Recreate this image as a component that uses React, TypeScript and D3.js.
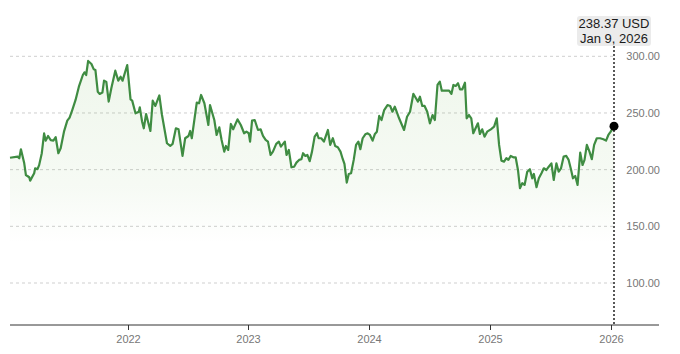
import React, { useRef, useEffect } from "react";
import * as d3 from "d3";

// weekly-ish closes
const dates: string[] = [
  "2021-01-11", "2021-02-03", "2021-02-08", "2021-02-13", "2021-02-23", "2021-02-28", "2021-03-10", "2021-03-13",
  "2021-03-25", "2021-03-28", "2021-04-04", "2021-04-09", "2021-04-17", "2021-04-24", "2021-04-29", "2021-05-06",
  "2021-05-14", "2021-05-22", "2021-05-29", "2021-06-06", "2021-06-13", "2021-06-23", "2021-07-03", "2021-07-10",
  "2021-07-18", "2021-07-28", "2021-08-07", "2021-08-19", "2021-08-24", "2021-08-29", "2021-09-04", "2021-09-14",
  "2021-09-21", "2021-09-26", "2021-10-03", "2021-10-09", "2021-10-17", "2021-10-22", "2021-10-29", "2021-11-05",
  "2021-11-13", "2021-11-25", "2021-12-04", "2021-12-11", "2021-12-17", "2021-12-31",
  "2022-01-10", "2022-01-15", "2022-01-25", "2022-02-04", "2022-02-07", "2022-02-14", "2022-02-19", "2022-02-26",
  "2022-03-11", "2022-03-18", "2022-03-26", "2022-04-07", "2022-04-15", "2022-04-30", "2022-05-10", "2022-05-17",
  "2022-05-27", "2022-06-04", "2022-06-16", "2022-06-24", "2022-07-04", "2022-07-09", "2022-07-14", "2022-07-29",
  "2022-08-05", "2022-08-11", "2022-08-21", "2022-09-02", "2022-09-07", "2022-09-20", "2022-09-27", "2022-10-05",
  "2022-10-12", "2022-10-20", "2022-10-25", "2022-11-01", "2022-11-09", "2022-11-16", "2022-11-29", "2022-12-09",
  "2022-12-19", "2022-12-26",
  "2023-01-02", "2023-01-06", "2023-01-12", "2023-01-20", "2023-01-30", "2023-02-07", "2023-02-14", "2023-02-22",
  "2023-03-01", "2023-03-09", "2023-03-16", "2023-03-26", "2023-04-03", "2023-04-09", "2023-04-21", "2023-04-26",
  "2023-05-03", "2023-05-11", "2023-05-19", "2023-05-26", "2023-06-03", "2023-06-10", "2023-06-15", "2023-06-22",
  "2023-06-28", "2023-07-05", "2023-07-12", "2023-07-20", "2023-07-27", "2023-08-01", "2023-08-09", "2023-08-17",
  "2023-08-24", "2023-08-29", "2023-09-05", "2023-09-13", "2023-09-20", "2023-09-28", "2023-10-06", "2023-10-13",
  "2023-10-18", "2023-10-25", "2023-10-31", "2023-11-07", "2023-11-15", "2023-11-22", "2023-11-29", "2023-12-05",
  "2023-12-12", "2023-12-20", "2023-12-27",
  "2024-01-03", "2024-01-11", "2024-01-18", "2024-01-24", "2024-01-31", "2024-02-07", "2024-02-15", "2024-02-25",
  "2024-03-04", "2024-03-11", "2024-03-18", "2024-03-31", "2024-04-15", "2024-04-24", "2024-05-03", "2024-05-13",
  "2024-05-21", "2024-05-27", "2024-06-02", "2024-06-09", "2024-06-16", "2024-06-24", "2024-07-02", "2024-07-10",
  "2024-07-17", "2024-07-25", "2024-08-01", "2024-08-07", "2024-08-14", "2024-08-22", "2024-08-29", "2024-09-05",
  "2024-09-11", "2024-09-18", "2024-09-25", "2024-10-01", "2024-10-08", "2024-10-16", "2024-10-21", "2024-10-28",
  "2024-11-04", "2024-11-10", "2024-11-17", "2024-11-24", "2024-11-30", "2024-12-07", "2024-12-14", "2024-12-22",
  "2025-01-02", "2025-01-12", "2025-01-20", "2025-01-27", "2025-02-03", "2025-02-11", "2025-02-18", "2025-02-24",
  "2025-03-03", "2025-03-11", "2025-03-18", "2025-03-25", "2025-03-31", "2025-04-07", "2025-04-14", "2025-04-22",
  "2025-04-30", "2025-05-07", "2025-05-12", "2025-05-20", "2025-05-27", "2025-06-04", "2025-06-11", "2025-06-19",
  "2025-06-26", "2025-07-04", "2025-07-11", "2025-07-19", "2025-07-26", "2025-08-02", "2025-08-10", "2025-08-18",
  "2025-08-25", "2025-09-01", "2025-09-07", "2025-09-14", "2025-09-21", "2025-09-29", "2025-10-06", "2025-10-12",
  "2025-10-19", "2025-10-27", "2025-11-03", "2025-11-10", "2025-11-18", "2025-11-28", "2025-12-08", "2025-12-16",
  "2025-12-23", "2025-12-30", "2026-01-09",
];

const closes: number[] = [
  210.5, 211.5, 210, 218, 205.6, 195.3, 193.3, 190.3,
  196.8, 201.2, 200.4, 204, 214.5, 232, 225.6, 229.7,
  226, 225.6, 228.6, 214.5, 218.9, 233.5, 243.2, 245.9,
  252.6, 261.5, 273.2, 283.5, 285.9, 283.5, 295.9, 293.2,
  288.5, 287.9, 268.8, 266.8, 268, 278.5, 277.3, 260,
  271.8, 287.3, 278.5, 282, 278.5, 292.3,
  262, 260.9, 249.7, 251.1, 255, 242.3, 236.5, 249.1,
  234.1, 260.9, 256.2, 265.5, 248.2, 223.3, 220.9, 222.7,
  236.5, 235.6, 212.1, 227.7, 229.7, 234.1, 227.7, 259.1,
  258.6, 265.9, 258.6, 239.4, 257, 243.8, 230.6, 237.4,
  226.2, 215.9, 220.9, 217.4, 240.3, 235.6, 244.4, 239.4,
  232.1, 233.5,
  232.1, 224.7, 243.2, 243.8, 235, 235.6, 229.7, 226.2,
  224.7, 213, 215.9, 222.7, 224.7, 220.3, 224.7, 213,
  217.4, 202.1, 202.6, 206.2, 208.6, 209.2, 214.5, 212.1,
  213, 207.5, 215.9, 229.1, 232.1, 227.7, 227.7, 224.7,
  230.6, 235, 221.8, 227.7, 220.9, 219.8, 215.9, 209.2,
  205, 188.6, 196.2, 196.8, 208.6, 221.8, 224.7, 218,
  227.7, 231.2, 232.1,
  230.6, 225.6, 231.5, 233.5, 247.4, 243.8, 252.6, 257,
  256.2, 251.1, 255.6, 245.3, 235, 246.7, 251.1, 266.8,
  263, 260, 264.4, 256.2, 256.2, 251.1, 240.9, 248.2,
  243.8, 274.7, 277.6, 269.7, 269.7, 269.7, 269.7, 266.8,
  274.7, 273.8, 276.2, 270.9, 270.9, 276.7, 245.3, 248.2,
  245.3, 232.1, 236.5, 240.9, 231.5, 235.6, 229.1, 233.5,
  235.6, 237.9, 245.3, 221.8, 207.9, 207.1, 210.1, 208.6,
  212.1, 210.9, 210.9, 199.7, 183.6, 188, 186.5, 198.2,
  200.4, 192.4, 196.2, 184.5, 192.4, 196.8, 201.2, 199.7,
  202.6, 205.6, 190.9, 205.6, 198.2, 201.2, 211.5, 212.1,
  208.6, 200.4, 192.4, 194.4, 186.5, 215, 204.1, 208.6,
  221.8, 215.9, 209.2, 221.8, 227.7, 227.7, 226.8, 225.6,
  230.6, 233.5, 238.37,
];

const yTicks = [100, 150, 200, 250, 300];
const yearTicks = ["2022", "2023", "2024", "2025", "2026"];
const lastLabel = "238.37 USD";
const lastDate = "Jan 9, 2026";

const App: React.FC = () => {
  const ref = useRef<SVGSVGElement | null>(null);
  const width = 680;
  const height = 354;

  useEffect(() => {
    if (!ref.current) return;
    const svg = d3.select(ref.current);
    svg.selectAll("*").remove();

    const parse = d3.timeParse("%Y-%m-%d");
    const data = dates.map((d, i) => ({ date: parse(d) as Date, value: closes[i] }));

    const plotLeft = 10;
    const plotRight = 614;
    const axisRight = 659;
    const axisY = 325;

    const x = d3
      .scaleTime()
      .domain([data[0].date, data[data.length - 1].date])
      .range([plotLeft, plotRight]);
    const y = d3.scaleLinear().domain([100, 300]).range([283, 56.3]);

    // gradient for the area under the line, fading out toward the bottom
    const defs = svg.append("defs");
    const grad = defs
      .append("linearGradient")
      .attr("id", "fillGrad")
      .attr("gradientUnits", "userSpaceOnUse")
      .attr("x1", 0)
      .attr("y1", y(300))
      .attr("x2", 0)
      .attr("y2", y(135));
    grad.append("stop").attr("offset", "0%").attr("stop-color", "#6cb04e").attr("stop-opacity", 0.11);
    grad.append("stop").attr("offset", "70%").attr("stop-color", "#6cb04e").attr("stop-opacity", 0.06);
    grad.append("stop").attr("offset", "100%").attr("stop-color", "#6cb04e").attr("stop-opacity", 0);

    // grid lines
    svg
      .append("g")
      .selectAll("line")
      .data(yTicks)
      .enter()
      .append("line")
      .attr("x1", plotLeft)
      .attr("x2", plotRight)
      .attr("y1", (d) => y(d))
      .attr("y2", (d) => y(d))
      .attr("stroke", "#cfcfcf")
      .attr("stroke-width", 1)
      .attr("stroke-dasharray", "3,3");

    // y labels on the right
    svg
      .append("g")
      .selectAll("text")
      .data(yTicks)
      .enter()
      .append("text")
      .attr("x", 660)
      .attr("y", (d) => y(d))
      .attr("dy", "0.35em")
      .attr("text-anchor", "end")
      .attr("fill", "#777")
      .style("font", "11px 'Liberation Sans', Arial, sans-serif")
      .text((d) => d3.format(".2f")(d));

    // area fill
    const area = d3
      .area<{ date: Date; value: number }>()
      .x((d) => x(d.date))
      .y0(y(135))
      .y1((d) => y(d.value));
    svg.append("path").datum(data).attr("d", area).attr("fill", "url(#fillGrad)");

    // price line
    const line = d3
      .line<{ date: Date; value: number }>()
      .x((d) => x(d.date))
      .y((d) => y(d.value));
    svg
      .append("path")
      .datum(data)
      .attr("d", line)
      .attr("fill", "none")
      .attr("stroke", "#3f8c42")
      .attr("stroke-width", 2.2)
      .attr("stroke-linejoin", "round");

    // x axis
    svg
      .append("line")
      .attr("x1", plotLeft)
      .attr("x2", axisRight)
      .attr("y1", axisY)
      .attr("y2", axisY)
      .attr("stroke", "#333")
      .attr("stroke-width", 1);

    const xt = svg
      .append("g")
      .selectAll("g")
      .data(yearTicks)
      .enter()
      .append("g")
      .attr("transform", (d) => `translate(${Math.round(x(parse(d + "-01-01") as Date)) + 0.5},${axisY})`);
    xt.append("line").attr("y1", 0).attr("y2", 5).attr("stroke", "#333");
    xt.append("text")
      .attr("y", 18)
      .attr("text-anchor", "middle")
      .attr("fill", "#777")
      .style("font", "11px 'Liberation Sans', Arial, sans-serif")
      .text((d) => d);

    // last-value marker
    const last = data[data.length - 1];
    const lx = x(last.date);
    svg
      .append("line")
      .attr("x1", lx)
      .attr("x2", lx)
      .attr("y1", 46)
      .attr("y2", axisY)
      .attr("stroke", "#222")
      .attr("stroke-width", 1.5)
      .attr("stroke-dasharray", "2,2");
    svg.append("circle").attr("cx", lx).attr("cy", y(last.value)).attr("r", 4.5).attr("fill", "#000");

    const tip = svg.append("g").attr("transform", `translate(${lx},0)`);
    tip.append("rect").attr("x", -37).attr("y", 16).attr("width", 74).attr("height", 30).attr("rx", 3).attr("fill", "#ebebeb");
    tip.append("text")
      .attr("y", 28)
      .attr("text-anchor", "middle")
      .attr("fill", "#1a1a1a")
      .style("font", "13px 'Liberation Sans', Arial, sans-serif")
      .text(lastLabel);
    tip.append("text")
      .attr("y", 43)
      .attr("text-anchor", "middle")
      .attr("fill", "#1a1a1a")
      .style("font", "13px 'Liberation Sans', Arial, sans-serif")
      .text(lastDate);
  }, []);

  return (
    <svg
      ref={ref}
      width={width}
      height={height}
      style={{ position: "absolute", left: 0, top: 0, background: "#fff" }}
    />
  );
};

export default App;
